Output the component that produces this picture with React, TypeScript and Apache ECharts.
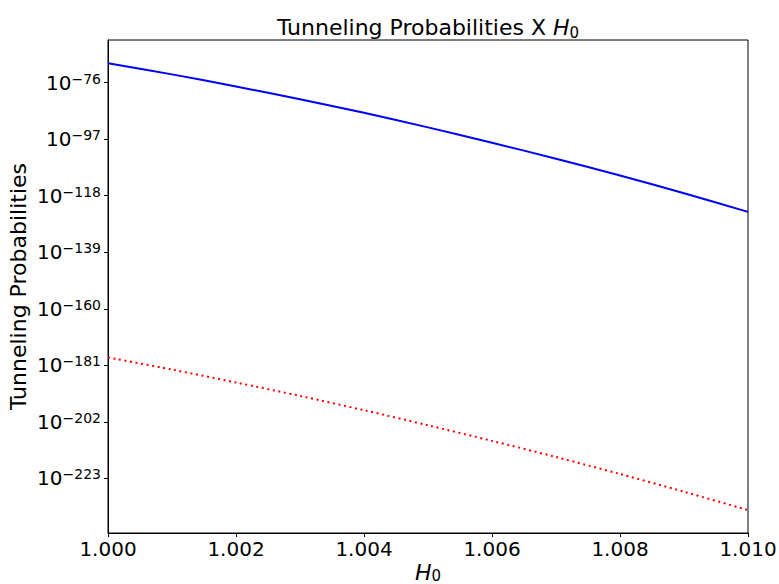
import React, { useEffect, useRef } from "react";
import * as echarts from "echarts";

const xValues = [1.0, 1.001, 1.002, 1.003, 1.004, 1.005, 1.006, 1.007, 1.008, 1.009, 1.01];
// log10 of the tunneling probabilities (exponents)
const blueExp = [-68.75, -72.9, -77.4, -82.15, -87.2, -92.6, -98.3, -104.25, -110.5, -117.1, -124.0];
const redExp = [-178.1, -182.6, -187.4, -192.4, -197.7, -203.3, -209.1, -215.1, -221.4, -228.0, -234.8];
const yTickExps = [-76, -97, -118, -139, -160, -181, -202, -223];

const FONT = "DejaVu Sans";

export default function App() {
  const ref = useRef<HTMLDivElement>(null);
  useEffect(() => {
    if (!ref.current) return;
    const chart = echarts.init(ref.current, undefined, { renderer: "svg" });
    chart.setOption({
      animation: false,
      backgroundColor: "#ffffff",
      grid: {
        left: 108,
        right: 31,
        top: 40,
        bottom: 51,
        containLabel: false,
        outerBoundsMode: "none",
        show: true,
        borderColor: "#000000",
        borderWidth: 1,
        backgroundColor: "transparent",
      },
      graphic: [
        {
          type: "text",
          x: 428,
          y: 27,
          style: {
            text: "{n|Tunneling Probabilities X }{i|H}{s|0}",
            align: "center",
            verticalAlign: "middle",
            rich: {
              n: { fontFamily: FONT, fontSize: 22, fill: "#000", lineHeight: 26 },
              i: { fontFamily: FONT, fontSize: 22, fontStyle: "italic", fill: "#000", lineHeight: 26 },
              s: { fontFamily: FONT, fontSize: 15, fill: "#000", verticalAlign: "bottom", lineHeight: 18 },
            },
          },
        },
      ],
      xAxis: {
        type: "value",
        min: 1.0,
        max: 1.01,
        interval: 0.002,
        name: "{i|H}{s|0}",
        nameLocation: "middle",
        nameGap: 28,
        nameMoveOverlap: false,
        nameTextStyle: {
          rich: {
            i: { fontFamily: FONT, fontSize: 22, fontStyle: "italic", color: "#000", lineHeight: 22 },
            s: { fontFamily: FONT, fontSize: 15, color: "#000", verticalAlign: "bottom", lineHeight: 15 },
          },
        },
        axisLine: { show: true, lineStyle: { color: "#000", width: 1 } },
        axisTick: { show: true, length: 4, lineStyle: { color: "#000", width: 1 } },
        axisLabel: {
          fontFamily: FONT,
          fontSize: 20,
          color: "#000",
          margin: 6,
          formatter: (v: number) => v.toFixed(3),
        },
        splitLine: { show: false },
      },
      yAxis: {
        type: "value",
        min: -243.33,
        max: -60.13,
        name: "Tunneling Probabilities",
        nameLocation: "middle",
        nameGap: 79,
        nameMoveOverlap: false,
        nameTextStyle: { fontFamily: FONT, fontSize: 22, color: "#000" },
        axisLine: { show: true, lineStyle: { color: "#000", width: 1 } },
        axisTick: {
          show: true,
          length: 4,
          customValues: yTickExps,
          lineStyle: { color: "#000", width: 1 },
        },
        axisLabel: {
          customValues: yTickExps,
          margin: 7,
          formatter: (v: number) => `{a|10}{b|\u2212${Math.round(Math.abs(v))}}`,
          rich: {
            a: { fontFamily: FONT, fontSize: 20, color: "#000", lineHeight: 22 },
            b: { fontFamily: FONT, fontSize: 14, color: "#000", lineHeight: 12, verticalAlign: "top" },
          },
        },
        splitLine: { show: false },
      },
      series: [
        {
          type: "line",
          data: xValues.map((x, i) => [x, blueExp[i]]),
          showSymbol: false,
          smooth: 0.3,
          lineStyle: { color: "#0000ff", width: 2 },
          itemStyle: { color: "#0000ff" },
        },
        {
          type: "line",
          data: xValues.map((x, i) => [x, redExp[i]]),
          showSymbol: false,
          smooth: 0.3,
          lineStyle: { color: "#ff0000", width: 2, type: [2, 3.6] },
          itemStyle: { color: "#ff0000" },
        },
      ],
    });
    return () => chart.dispose();
  }, []);
  return <div ref={ref} style={{ width: 779, height: 584, position: "absolute", left: 0, top: 0 }} />;
}
